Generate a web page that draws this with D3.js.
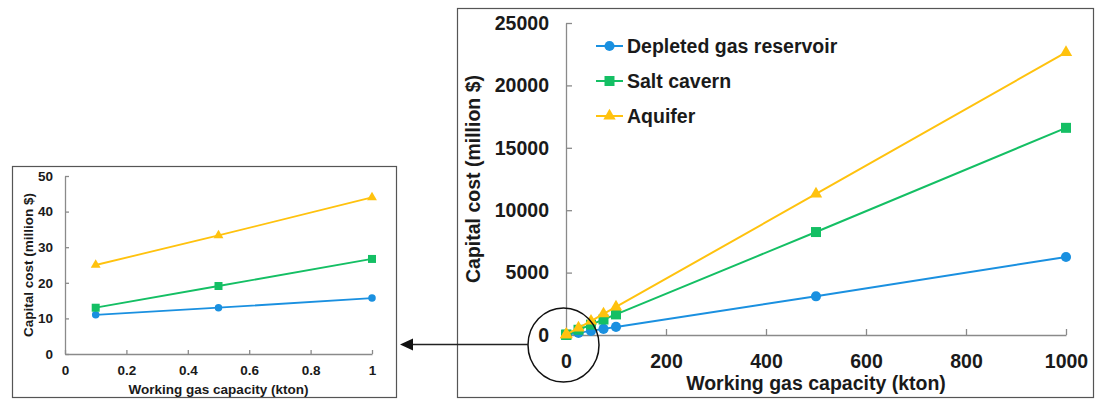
<!DOCTYPE html>
<html>
<head>
<meta charset="utf-8">
<script src="https://cdn.jsdelivr.net/npm/d3@7"></script>
<style>
  html, body { margin: 0; padding: 0; background: #fff; }
  svg { display: block; }
  text { font-family: "Liberation Sans", Arial, sans-serif; font-weight: bold; fill: #1a1a1a; }
</style>
</head>
<body>
<svg id="chart" width="1096" height="399"></svg>
<script>
// ---- Data ----
const capacity = [0.1, 0.5, 1, 25, 50, 75, 100, 500, 1000];           // kton
const depleted = [11, 13, 15.7, 170, 330, 490, 650, 3100, 6250];       // million $
const saltCavern = [13, 19.1, 26.7, 420, 830, 1240, 1650, 8250, 16600];
const aquifer = [25, 33.3, 44, 570, 1120, 1700, 2250, 11300, 22650];
const seriesNames = ["Depleted gas reservoir", "Salt cavern", "Aquifer"];
const mainXTicks = [0, 200, 400, 600, 800, 1000];
const mainYTicks = [0, 5000, 10000, 15000, 20000, 25000];
const insetXTicks = [0, 0.2, 0.4, 0.6, 0.8, 1];
const insetYTicks = [0, 10, 20, 30, 40, 50];
const xTitle = "Working gas capacity (kton)";
const yTitle = "Capital cost (million $)";

const colors = ["#1a90e0", "#14bf64", "#ffc20e"];
const symbols = [d3.symbolCircle, d3.symbolSquare, d3.symbolTriangle];
const seriesVals = [depleted, saltCavern, aquifer];

const svg = d3.select("#chart");

// ---- Frames ----
svg.append("rect").attr("x", 12.5).attr("y", 166.5).attr("width", 384).attr("height", 231)
  .attr("fill", "none").attr("stroke", "#555").attr("stroke-width", 1.2);
svg.append("rect").attr("x", 457.5).attr("y", 8.5).attr("width", 636).attr("height", 389)
  .attr("fill", "none").attr("stroke", "#555").attr("stroke-width", 1.2);

function styleAxis(g) {
  g.selectAll(".domain").attr("stroke", "#8a8a8a").attr("stroke-width", 1.3);
  g.selectAll(".tick line").attr("stroke", "#8a8a8a").attr("stroke-width", 1.3);
}

function drawPanel(opts) {
  const { x, y, idx, fs, xPad, yPad, tick, lw, sizes, titleX, titleY, yTitleX } = opts;
  const g = svg.append("g");
  const xr = x.range(), yr = y.range();

  const gx = g.append("g").attr("transform", `translate(0,${yr[0]})`)
    .call(d3.axisBottom(x).tickValues(opts.xTicks).tickSize(-tick).tickPadding(xPad)
      .tickSizeOuter(0).tickFormat(d3.format("~g")));
  const gy = g.append("g").attr("transform", `translate(${xr[0]},0)`)
    .call(d3.axisLeft(y).tickValues(opts.yTicks).tickSize(-tick).tickPadding(yPad)
      .tickSizeOuter(0).tickFormat(d3.format("d")));
  [gx, gy].forEach(a => {
    styleAxis(a);
    a.selectAll("text").attr("font-size", fs + "px")
      .attr("font-family", "'Liberation Sans', Arial, sans-serif").attr("font-weight", "bold")
      .attr("fill", "#1a1a1a");
  });

  seriesVals.forEach((vals, s) => {
    const pts = idx.map(i => [capacity[i], vals[i]]);
    g.append("path").datum(pts)
      .attr("fill", "none").attr("stroke", colors[s]).attr("stroke-width", lw)
      .attr("d", d3.line().x(d => x(d[0])).y(d => y(d[1])));
    g.selectAll(null).data(pts).enter().append("path")
      .attr("transform", d => `translate(${x(d[0])},${y(d[1])})`)
      .attr("d", d3.symbol().type(symbols[s]).size(sizes[s]))
      .attr("fill", colors[s]);
  });

  g.append("text").attr("x", (xr[0] + xr[1]) / 2).attr("y", titleY)
    .attr("text-anchor", "middle").attr("font-size", fs + "px").text(xTitle);
  g.append("text").attr("transform", `translate(${yTitleX},${(yr[0] + yr[1]) / 2}) rotate(-90)`)
    .attr("text-anchor", "middle").attr("dy", "0.35em").attr("font-size", fs + "px").text(yTitle);
  return g;
}

// ---- Inset panel (small capacities) ----
const xInset = d3.scaleLinear().domain([0, 1]).range([65, 372]);
const yInset = d3.scaleLinear().domain([0, 50]).range([354, 176]);
drawPanel({
  x: xInset, y: yInset, idx: [0, 1, 2], fs: 13.5, xPad: 11, yPad: 12, tick: 4, lw: 1.8,
  sizes: [44, 64, 42], xTicks: insetXTicks, yTicks: insetYTicks,
  titleY: 394, yTitleX: 28
});

// ---- Main panel ----
const xMain = d3.scaleLinear().domain([0, 1000]).range([566, 1066]);
const yMain = d3.scaleLinear().domain([0, 25000]).range([335, 23]);
drawPanel({
  x: xMain, y: yMain, idx: d3.range(capacity.length), fs: 19.5, xPad: 19, yPad: 17, tick: 6, lw: 2,
  sizes: [80, 100, 66], xTicks: mainXTicks, yTicks: mainYTicks,
  titleY: 390, yTitleX: 473
});

// ---- Legend ----
const legend = svg.append("g");
const legendY = [46, 81, 116];
seriesNames.forEach((name, s) => {
  const ly = legendY[s];
  legend.append("line").attr("x1", 596).attr("x2", 623).attr("y1", ly).attr("y2", ly)
    .attr("stroke", colors[s]).attr("stroke-width", 2);
  legend.append("path").attr("transform", `translate(609.5,${ly})`)
    .attr("d", d3.symbol().type(symbols[s]).size([80, 100, 66][s])).attr("fill", colors[s]);
  legend.append("text").attr("x", 627).attr("y", ly).attr("dy", "0.35em")
    .attr("font-size", "19.5px").text(name);
});

// ---- Zoom callout: ellipse + arrow ----
svg.append("ellipse").attr("cx", 563.5).attr("cy", 345).attr("rx", 35.5).attr("ry", 37)
  .attr("fill", "none").attr("stroke", "#111").attr("stroke-width", 1.5);
svg.append("line").attr("x1", 528).attr("x2", 410).attr("y1", 344.5).attr("y2", 344.5)
  .attr("stroke", "#222").attr("stroke-width", 1.3);
svg.append("path").attr("d", "M400,344.5 L413,338.5 L413,350.5 Z").attr("fill", "#111");
</script>
</body>
</html>
